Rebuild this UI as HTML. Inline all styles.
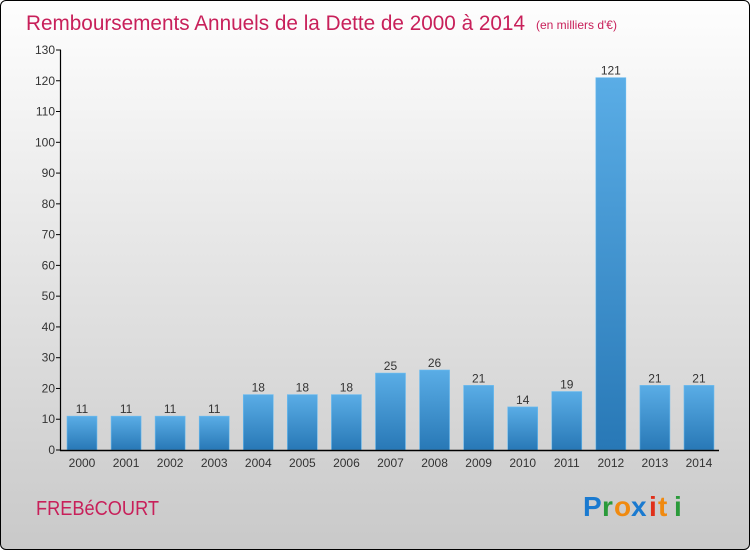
<!DOCTYPE html>
<html><head><meta charset="utf-8"><style>
body{margin:0;}
#c{width:748px;height:548px;border:1px solid #000;border-radius:6px;overflow:hidden;background:linear-gradient(#fefefe,#c9c9c9);position:relative;font-family:"Liberation Sans",sans-serif;}
</style></head><body>
<div id="c">
<svg id="s" width="748" height="548" xmlns="http://www.w3.org/2000/svg">
<defs><linearGradient id="g" x1="0" y1="0" x2="0" y2="1"><stop offset="0" stop-color="#5aade6"/><stop offset="1" stop-color="#2878b6"/></linearGradient></defs>
<text x="25" y="29" font-size="21" fill="#c8205a" font-weight="300" textLength="499" lengthAdjust="spacingAndGlyphs">Remboursements Annuels de la Dette de 2000 à 2014</text>
<text x="535" y="28" font-size="12" fill="#c8205a">(en milliers d'€)</text>
<text x="35" y="514" font-size="20" fill="#c8205a" textLength="123" lengthAdjust="spacingAndGlyphs">FREBéCOURT</text>
<g font-size="28" font-weight="bold" font-family="'Liberation Sans',sans-serif">
<text x="582" y="515" fill="#1a7ad0">P</text><text x="601" y="515" fill="#2a9a3a">r</text><text x="613" y="515" fill="#f08a10">o</text><text x="630" y="515" fill="#1a7ad0">x</text><text x="648" y="515" fill="#e0301a">i</text><text x="657" y="515" fill="#f08a10">t</text><text x="673" y="515" fill="#2a9a3a">i</text>
</g>
<g id="plot"></g>
</svg></div>
<script>
const years=["2000","2001","2002","2003","2004","2005","2006","2007","2008","2009","2010","2011","2012","2013","2014"];
const values=[11,11,11,11,18,18,18,25,26,21,14,19,121,21,21];
const ticks=[0,10,20,30,40,50,60,70,80,90,100,110,120,130];
const NS="http://www.w3.org/2000/svg";
const p=document.getElementById('plot');
const y=v=>449-v*400/130;
const x=i=>66+i*44.07;
function mk(t,a,txt){const e=document.createElementNS(NS,t);for(const k in a)e.setAttribute(k,a[k]);if(txt!=null)e.textContent=txt;p.appendChild(e);return e;}
ticks.forEach(t=>{
const l=mk('line',{x1:55,x2:60,y1:y(t),y2:y(t),stroke:'#000'});


const tx=mk('text',{x:54,y:y(t)+4,'font-size':12,fill:'#333','text-anchor':'end'},t);


});
values.forEach((v,i)=>{
const r=mk('rect',{x:x(i),y:y(v),width:30,height:y(0)-y(v),fill:'url(#g)',stroke:'#6bbcf0','stroke-width':0.6});


const vl=mk('text',{x:x(i)+15,y:y(v)-3,'font-size':12,fill:'#333','text-anchor':'middle'},v);


const xl=mk('text',{x:x(i)+15,y:466,'font-size':12,fill:'#333','text-anchor':'middle'},years[i]);


});
const ya=mk('line',{x1:59.5,x2:59.5,y1:y(130),y2:y(0)+1,stroke:'#000','stroke-width':1.2});


const xa=mk('line',{x1:59,x2:718,y1:y(0)+0.5,y2:y(0)+0.5,stroke:'#000','stroke-width':1.5});


</script>
</body></html>
